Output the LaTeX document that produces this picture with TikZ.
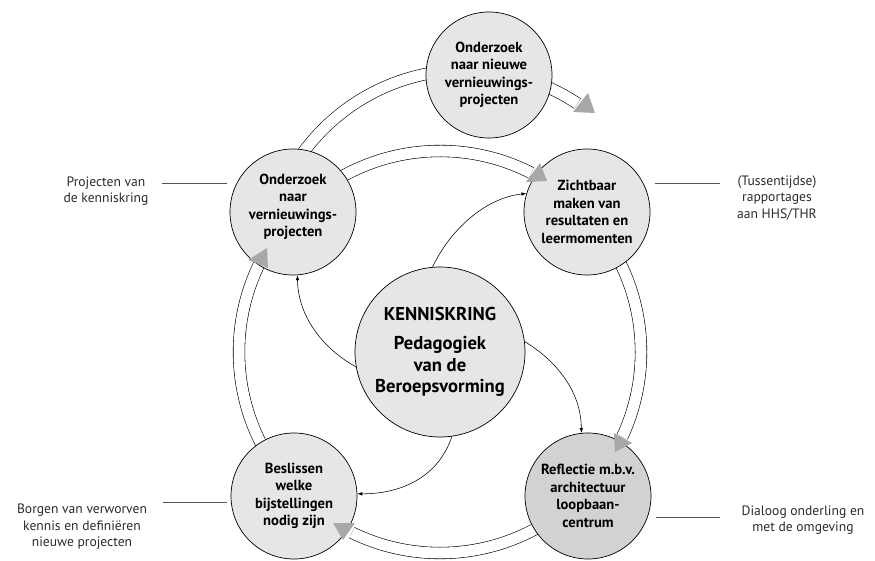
\documentclass[tikz,border=0pt]{standalone}
\usepackage{fontspec}
\setmainfont{PT Sans}
\usetikzlibrary{arrows.meta,calc}
\definecolor{cfill}{HTML}{E6E6E6}
\definecolor{cfilldark}{HTML}{D2D2D2}
\definecolor{trigray}{HTML}{A8A8A8}
\definecolor{lbl}{HTML}{2A2A2A}
\definecolor{leadc}{HTML}{555555}
\begin{document}
\begin{tikzpicture}[x=1pt,y=-1pt,
  ring/.style={draw=black, line width=0.6pt, double=white, double distance=11pt},
  stage/.style={circle, draw=black, line width=0.7pt, fill=cfill, minimum size=126pt, inner sep=0pt, align=center, font=\bfseries\fontsize{14.6}{17.5}\selectfont, text=black},
  tri/.style={fill=trigray, draw=none},
  thinarrow/.style={line width=0.55pt, -{Latex[length=5pt,width=3.5pt]}},
  side/.style={align=center, font=\fontsize{13.6}{16.5}\selectfont, text=lbl},
  lead/.style={draw=leadc, line width=0.8pt}
]
\useasboundingbox (0,0) rectangle (875,561);
\coordinate (C) at (440,352);
\coordinate (T) at (466,272);
% outer arc to the top circle
\draw[ring] (T) ++(-160:202) arc[start angle=-160, end angle=-56.5, radius=202];
% main ring segments
\draw[ring] (C) ++(-137:201) arc[start angle=-137, end angle=-63, radius=201];
\draw[ring] (C) ++(-44:201) arc[start angle=-44, end angle=25, radius=201];
\draw[ring] (C) ++(44:201) arc[start angle=44, end angle=116, radius=201];
\draw[ring] (C) ++(135:201) arc[start angle=135, end angle=206, radius=201];
% circles
\node[stage] (top) at (489,75) {Onderzoek\\naar nieuwe\\vernieuwings-\\projecten};
\node[stage] (ul) at (293,212) {\raisebox{0pt}[0pt][0pt]{}Onderzoek\\naar\\vernieuwings-\\projecten\\[-4pt]\mbox{}};
\node[stage] (ur) at (587,212) {Zichtbaar\\maken van\\resultaten en\\leermomenten};
\node[stage, fill=cfilldark] (lr) at (588,496) {Reflectie m.b.v.\\architectuur\\loopbaan-\\centrum};
\node[stage] (ll) at (294,496) {Beslissen\\welke\\bijstellingen\\nodig zijn};
\node[stage, minimum size=170pt, font=\bfseries\fontsize{18.6}{21.5}\selectfont] (mid) at (440,352) {KENNISKRING\\[8pt]Pedagogiek\\van de\\Beroepsvorming};
% arrowheads of the ring
\fill[tri] (540,163) -- (526,182) -- (547,181) -- cycle;
\fill[tri] (614,433) -- (632,443) -- (615,452) -- cycle;
\fill[tri] (333,523) -- (355,523) -- (343,540) -- cycle;
\fill[tri] (267,248) -- (248,260) -- (268,268) -- cycle;
\fill[tri] (588,93) -- (573,112) -- (595,113) -- cycle;
% inner arrows
\draw[thinarrow] (mid.95) .. controls (450,230) and (485,198) .. (ur.163);
\draw[thinarrow] (mid.190) .. controls (325,350) and (298,318) .. (ul.274);
\draw[thinarrow] (mid.7) .. controls (555,360) and (581,390) .. (lr.96);
\draw[thinarrow] (mid.278) .. controls (438,478) and (400,494) .. (ll.2);
% side labels
\node[side] (l1) at (106,191) {Projecten van\\de kenniskring};
\node[side] (l2) at (777,198) {(Tussentijdse)\\rapportages\\aan HHS/THR};
\node[side] (l3) at (82,527) {Borgen van verworven\\kennis en definiëren\\nieuwe projecten};
\node[side] (l4) at (803,520) {Dialoog onderling en\\met de omgeving};
\coordinate (a1) at (162,183); \coordinate (b1) at (227,183);
\coordinate (a2) at (655,183); \coordinate (b2) at (720,183);
\coordinate (a3) at (163,502); \coordinate (b3) at (227,502);
\coordinate (a4) at (656,517); \coordinate (b4) at (720,517);
\draw[lead] (a1) -- (b1);
\draw[lead] (a2) -- (b2);
\draw[lead] (a3) -- (b3);
\draw[lead] (a4) -- (b4);
\end{tikzpicture}
\end{document}
